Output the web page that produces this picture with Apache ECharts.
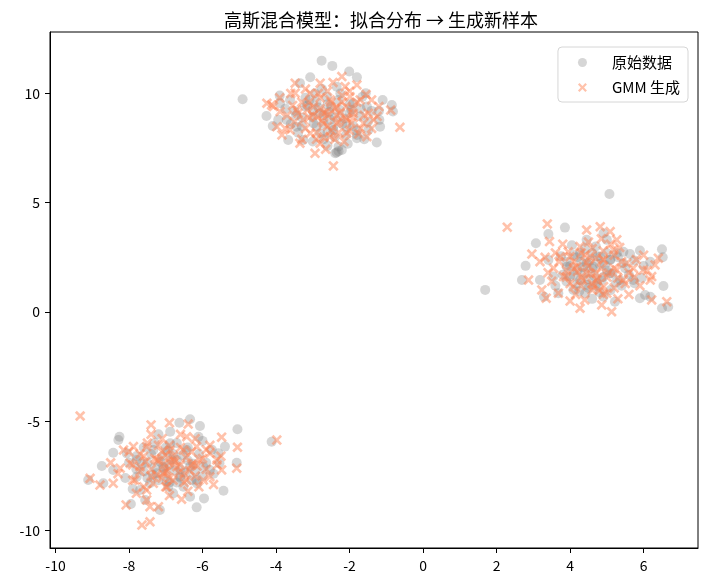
<!DOCTYPE html>
<html>
<head>
<meta charset="utf-8">
<title>GMM</title>
<script src="https://cdn.jsdelivr.net/npm/echarts@6/dist/echarts.min.js"></script>
<style>
  html, body { margin: 0; padding: 0; background: #fff; }
  #chart { width: 709px; height: 587px; }
</style>
</head>
<body>
<div id="chart"></div>
<script>
// 原始数据 (gray circles) per cluster
var origTop = [
  [-2.76, 11.5], [-2.47, 11.26], [-2.01, 11.0], [-1.8, 10.74], [-3.07, 10.74], [-4.91, 9.73],
  [-4.26, 8.97], [-4.09, 8.51], [-3.67, 7.87], [-1.26, 7.75], [-2.39, 7.26], [-2.21, 7.41],
  [-1.8, 7.95], [-1.49, 8.33], [-1.19, 8.79], [-1.1, 9.7], [-0.85, 9.47], [-0.82, 9.17],
  [-1.56, 10.01], [-3.35, 10.47], [-2.94, 10.01], [-2.62, 9.85], [-2.35, 10.31], [-3.89, 9.55],
  [-3.62, 9.7], [-3.21, 9.4], [-2.8, 9.09], [-1.9, 9.55], [-1.71, 8.94], [-2.08, 8.48],
  [-1.53, 9.4], [-3.94, 8.79], [-3.44, 8.48], [-3.26, 7.87], [-2.8, 8.18], [-2.3, 7.57],
  [-1.8, 8.1], [-3.09, 9.7], [-2.53, 8.79], [-2.26, 9.24], [-3.71, 8.79], [-1.17, 8.48],
  [-2.44, 8.33], [-2.98, 8.63], [-2.7, 9.0], [-2.4, 8.9], [-2.2, 8.6], [-3.0, 9.2],
  [-2.5, 9.4], [-2.0, 9.1], [-3.3, 8.9], [-2.6, 8.2], [-1.9, 8.5], [-2.9, 8.5],
  [-2.35, 7.3], [-2.3, 7.35], [-3.5, 9.2], [-3.2, 9.8], [-2.9, 9.6], [-2.6, 9.5],
  [-2.3, 9.7], [-2.0, 9.5], [-1.7, 9.3], [-1.5, 8.7], [-1.8, 8.3], [-2.1, 8.1],
  [-2.4, 8.0], [-2.7, 7.9], [-3.0, 7.8], [-3.4, 8.2], [-3.6, 8.6], [-3.3, 8.5],
  [-3.0, 8.9], [-2.7, 8.6], [-2.45, 8.45], [-2.15, 8.85], [-1.95, 9.25], [-2.55, 9.15],
  [-2.85, 9.35], [-3.15, 9.45], [-3.45, 9.0], [-2.25, 10.0], [-2.75, 10.2], [-1.65, 9.85],
  [-1.4, 9.2], [-3.75, 9.3], [-2.05, 7.7], [-2.6, 7.6], [-1.6, 7.9], [-3.9, 9.9],
  [-1.2, 9.2]
];
var origRight = [
  [5.07, 5.4], [1.69, 1.01], [3.86, 3.86], [3.41, 3.57], [3.07, 3.14], [2.79, 2.11],
  [2.69, 1.46], [3.18, 1.46], [3.29, 0.7], [3.68, 0.86], [4.41, 0.86], [5.22, 0.47],
  [5.9, 0.63], [6.04, 0.78], [6.5, 0.17], [6.67, 0.24], [6.54, 1.19], [6.5, 2.87],
  [6.52, 2.5], [6.18, 2.3], [5.9, 2.81], [5.63, 2.65], [4.91, 3.6], [4.45, 3.3],
  [4.09, 2.61], [3.91, 2.07], [4.27, 1.46], [4.73, 1.31], [5.09, 1.77], [5.45, 2.23],
  [5.72, 1.46], [5.27, 2.69], [4.82, 2.53], [4.45, 2.23], [3.55, 1.62], [4.91, 0.7],
  [5.36, 1.46], [4.0, 1.62], [4.63, 2.07], [5.09, 2.38], [6.18, 0.7], [4.27, 2.69],
  [4.09, 1.01], [3.41, 2.38], [5.75, 1.31], [4.6, 2.0], [4.4, 1.8], [4.8, 2.2],
  [4.3, 2.3], [5.0, 1.9], [4.5, 1.5], [4.7, 1.2], [4.2, 1.9], [5.1, 2.4],
  [3.9, 2.3], [4.6, 2.7], [4.9, 1.6], [3.8, 1.7], [4.0, 2.1], [4.2, 2.5],
  [4.4, 2.9], [4.7, 3.0], [5.0, 2.7], [5.3, 2.5], [5.5, 2.0], [5.6, 1.7],
  [5.4, 1.2], [5.1, 1.0], [4.8, 0.9], [4.5, 1.1], [4.2, 1.3], [3.9, 1.4],
  [4.1, 1.7], [4.35, 2.05], [4.55, 2.35], [4.75, 2.55], [4.95, 2.15], [5.15, 1.75],
  [5.25, 1.35], [4.85, 1.45], [4.65, 1.65], [4.45, 1.25], [4.25, 0.95], [3.75, 2.55],
  [5.75, 2.35], [5.95, 1.55], [4.05, 3.05], [5.45, 2.75], [4.6, 0.6], [3.6, 1.2],
  [5.0, 3.3], [6.0, 2.1]
];
var origBottom = [
  [-5.05, -5.37], [-4.12, -5.94], [-6.34, -4.91], [-6.63, -5.07], [-6.07, -5.22], [-6.11, -5.71],
  [-6.88, -5.48], [-8.26, -5.71], [-8.29, -5.86], [-8.43, -6.44], [-8.74, -7.05], [-9.11, -7.69],
  [-8.7, -7.84], [-7.95, -8.79], [-7.56, -8.6], [-7.16, -9.06], [-6.34, -8.45], [-6.16, -8.94],
  [-5.96, -8.53], [-5.43, -8.18], [-5.07, -6.9], [-5.39, -6.16], [-5.57, -6.47], [-5.54, -6.92],
  [-6.93, -8.0], [-7.7, -8.15], [-8.43, -7.23], [-7.79, -6.77], [-7.34, -6.32], [-6.88, -6.01],
  [-6.43, -6.32], [-5.98, -7.08], [-6.16, -7.69], [-6.61, -7.54], [-7.25, -7.38], [-7.79, -7.54],
  [-7.07, -7.08], [-6.7, -6.77], [-6.34, -7.08], [-7.43, -7.84], [-5.8, -7.23], [-8.06, -6.47],
  [-6.52, -8.0], [-6.97, -7.76], [-6.9, -7.0], [-7.1, -6.6], [-6.6, -7.2], [-7.3, -7.1],
  [-6.8, -6.5], [-7.0, -7.4], [-6.4, -6.8], [-7.5, -6.9], [-6.7, -7.8], [-6.2, -7.3],
  [-7.6, -7.3], [-7.8, -6.6], [-7.6, -6.2], [-7.3, -6.0], [-7.0, -6.2], [-6.7, -6.0],
  [-6.4, -6.2], [-6.1, -6.5], [-5.9, -6.9], [-6.0, -7.5], [-6.3, -7.7], [-6.6, -7.6],
  [-6.9, -7.8], [-7.2, -7.7], [-7.5, -7.6], [-7.8, -7.2], [-8.0, -6.9], [-7.4, -6.5],
  [-7.15, -6.85], [-6.85, -6.75], [-6.55, -6.55], [-6.25, -6.95], [-6.45, -7.35], [-6.75, -7.25],
  [-7.05, -7.15], [-7.35, -7.45], [-7.65, -6.95], [-6.95, -6.35], [-6.15, -7.85], [-5.7, -7.4],
  [-5.75, -6.3], [-8.1, -7.6], [-7.9, -8.1], [-6.8, -8.3], [-6.0, -5.9], [-7.2, -5.6]
];

// GMM 生成 (orange crosses)
var gmmTop = [
  [-0.63, 8.45], [-0.88, 9.24], [-2.44, 6.68], [-2.94, 7.26], [-3.35, 7.72], [-3.84, 8.1],
  [-4.12, 9.47], [-3.48, 10.47], [-2.21, 10.77], [-1.8, 10.39], [-2.8, 10.47], [-3.48, 10.01],
  [-4.25, 9.55], [-3.89, 9.17], [-3.98, 8.48], [-3.26, 8.79], [-2.98, 9.4], [-2.53, 9.7],
  [-2.26, 9.09], [-1.99, 9.85], [-1.71, 9.7], [-1.49, 9.09], [-1.62, 8.63], [-1.35, 8.79],
  [-2.08, 8.18], [-2.53, 8.02], [-2.8, 7.72], [-3.07, 8.18], [-2.35, 8.63], [-2.71, 8.63],
  [-3.62, 8.33], [-1.9, 9.09], [-2.62, 9.17], [-3.07, 10.01], [-2.35, 9.4], [-1.53, 8.02],
  [-2.12, 10.31], [-3.44, 9.24], [-2.89, 8.94], [-2.08, 8.79], [-4.07, 9.4], [-2.6, 9.0],
  [-2.3, 8.7], [-2.8, 9.3], [-2.1, 9.4], [-3.1, 8.9], [-2.5, 8.3], [-1.9, 8.9],
  [-3.3, 9.6], [-2.7, 8.0], [-2.2, 9.9], [-3.4, 9.1], [-3.1, 9.6], [-2.8, 9.8],
  [-2.5, 9.6], [-2.2, 9.6], [-1.9, 9.3], [-1.6, 9.0], [-1.7, 8.4], [-2.0, 8.3],
  [-2.3, 8.2], [-2.6, 8.5], [-2.9, 8.2], [-3.2, 8.4], [-3.5, 8.7], [-3.7, 9.0],
  [-3.0, 9.0], [-2.7, 9.1], [-2.4, 9.3], [-2.1, 8.9], [-1.8, 9.6], [-2.4, 7.9],
  [-2.9, 7.9], [-3.3, 7.9], [-1.4, 8.4], [-1.2, 9.4], [-3.9, 9.8], [-2.6, 10.1],
  [-2.0, 10.1], [-3.6, 10.0], [-1.55, 9.95], [-2.75, 8.75], [-2.35, 9.0], [-3.15, 9.25],
  [-1.95, 8.65], [-3.2, 10.2], [-2.45, 10.5], [-1.4, 9.7], [-3.75, 8.4], [-2.15, 7.8],
  [-2.65, 7.45], [-1.25, 8.95], [-3.55, 9.45], [-2.85, 10.0], [-1.75, 8.15]
];
var gmmRight = [
  [2.29, 3.88], [3.38, 4.03], [4.82, 3.9], [4.45, 3.75], [5.09, 3.68], [3.44, 3.22],
  [2.96, 2.65], [3.32, 2.5], [3.18, 2.3], [2.87, 1.46], [3.23, 1.01], [3.35, 0.63],
  [3.68, 0.86], [4.27, 0.17], [4.86, 0.32], [5.13, 0.01], [5.27, 3.3], [6.4, 2.46],
  [6.31, 2.15], [6.63, 0.47], [6.22, 0.55], [6.18, 1.46], [5.99, 1.92], [5.72, 2.0],
  [3.55, 2.0], [3.82, 1.62], [4.18, 2.07], [4.45, 1.77], [4.73, 1.46], [4.91, 1.16],
  [5.0, 0.86], [4.54, 2.53], [4.91, 2.38], [5.18, 2.84], [4.0, 2.53], [4.27, 2.99],
  [5.45, 1.46], [5.54, 2.23], [3.73, 2.53], [4.63, 1.16], [4.09, 1.16], [5.27, 1.92],
  [6.22, 1.62], [4.5, 2.1], [4.7, 1.8], [4.3, 1.6], [4.9, 2.4], [4.1, 2.0],
  [5.0, 1.6], [4.6, 1.3], [4.4, 2.6], [3.9, 1.9], [5.2, 2.0], [4.8, 1.0],
  [3.9, 1.6], [4.1, 2.3], [4.3, 2.7], [4.6, 2.9], [4.9, 2.8], [5.2, 2.6],
  [5.4, 2.3], [5.6, 1.8], [5.5, 1.3], [5.2, 1.1], [4.9, 0.8], [4.6, 1.0],
  [4.3, 1.2], [4.0, 1.3], [4.2, 1.85], [4.45, 2.25], [4.7, 2.45], [4.85, 2.0],
  [5.05, 1.8], [5.3, 1.55], [4.75, 1.55], [4.55, 1.75], [4.35, 1.45], [4.15, 0.8],
  [3.7, 2.3], [5.8, 2.4], [5.9, 1.2], [3.5, 1.4], [5.1, 3.1], [4.5, 3.2],
  [4.0, 0.5], [5.6, 0.8], [6.1, 1.9], [3.6, 2.7], [3.4, 1.8], [5.35, 2.95],
  [5.75, 1.6], [4.4, 0.55], [5.3, 0.6], [3.8, 3.1], [6.0, 2.6], [4.85, 3.35],
  [3.95, 2.75]
];
var gmmBottom = [
  [-9.33, -4.76], [-3.98, -5.86], [-7.4, -5.17], [-6.9, -5.07], [-6.39, -5.13], [-5.48, -5.73],
  [-5.05, -6.19], [-5.07, -7.15], [-5.48, -7.23], [-9.06, -7.61], [-8.79, -7.92], [-8.43, -7.84],
  [-8.08, -8.83], [-7.43, -8.91], [-7.2, -8.91], [-7.65, -9.75], [-7.43, -9.6], [-6.57, -8.57],
  [-8.15, -6.32], [-7.88, -6.16], [-7.52, -6.16], [-7.84, -7.69], [-7.52, -8.15], [-5.98, -7.69],
  [-6.07, -6.77], [-5.8, -6.47], [-6.43, -5.71], [-6.88, -6.32], [-7.25, -6.77], [-6.7, -7.08],
  [-7.07, -7.38], [-7.34, -7.84], [-6.43, -7.69], [-6.25, -6.92], [-7.7, -7.08], [-7.97, -6.92],
  [-6.52, -6.32], [-6.16, -6.16], [-5.61, -6.77], [-6.97, -8.0], [-7.52, -8.6], [-5.8, -7.54],
  [-6.79, -6.77], [-8.24, -7.15], [-6.9, -6.9], [-7.2, -6.8], [-6.6, -7.0], [-7.0, -7.3],
  [-6.8, -6.6], [-7.4, -7.2], [-6.5, -7.4], [-7.1, -6.4], [-6.3, -7.0], [-7.6, -6.6],
  [-6.9, -7.6], [-7.7, -6.5], [-7.5, -6.0], [-7.2, -6.1], [-6.9, -6.1], [-6.6, -6.2],
  [-6.3, -6.4], [-6.0, -6.7], [-5.9, -7.2], [-6.2, -7.5], [-6.5, -7.8], [-6.8, -7.7],
  [-7.1, -7.6], [-7.4, -7.5], [-7.7, -7.3], [-7.9, -7.0], [-7.3, -6.7], [-7.05, -6.95],
  [-6.75, -6.85], [-6.45, -6.65], [-6.15, -7.05], [-6.35, -7.25], [-6.65, -7.35], [-6.95, -7.25],
  [-7.25, -7.45], [-7.55, -6.85], [-7.0, -6.55], [-6.1, -8.0], [-5.6, -7.0], [-5.8, -6.1],
  [-8.3, -7.4], [-7.8, -8.3], [-6.9, -8.4], [-6.2, -5.8], [-7.4, -5.6], [-7.0, -8.0],
  [-8.0, -6.4], [-7.9, -7.7], [-5.9, -6.3], [-6.6, -5.6], [-7.1, -5.8], [-5.5, -6.6],
  [-7.6, -8.0], [-6.4, -8.2], [-8.5, -6.9], [-5.7, -7.9]
];

var xTicks = [-10, -8, -6, -4, -2, 0, 2, 4, 6];
var yTicks = [-10, -5, 0, 5, 10];
var seriesNames = ['原始数据', 'GMM 生成'];

var font = '"Noto Sans CJK SC", "DejaVu Sans", sans-serif';
var crossPath = 'path://M1.8,0L5,3.2L8.2,0L10,1.8L6.8,5L10,8.2L8.2,10L5,6.8L1.8,10L0,8.2L3.2,5L0,1.8Z';

var chart = echarts.init(document.getElementById('chart'));

var axisCommon = {
    type: 'value',
    axisLine: { show: true, onZero: false, lineStyle: { color: '#000', width: 1 } },
    axisTick: { show: true, inside: false, length: 5, lineStyle: { color: '#000' } },
    axisLabel: { color: '#000', fontSize: 14, fontFamily: font },
    splitLine: { show: false }
};

chart.setOption({
    animation: false,
    backgroundColor: '#fff',
    title: {
        text: '高斯混合模型：拟合分布 → 生成新样本',
        left: 376,
        top: 5,
        textAlign: 'center',
        textStyle: { fontSize: 18, fontWeight: 'normal', color: '#000', fontFamily: font, lineHeight: 20 }
    },
    grid: {
        left: 50, right: 11, top: 32, bottom: 39,
        show: true, borderColor: '#000', borderWidth: 1, backgroundColor: 'transparent'
    },
    legend: {
        orient: 'vertical',
        right: 21,
        top: 47,
        itemWidth: 9,
        itemHeight: 9,
        itemGap: 10,
        padding: [8, 8, 7, 20],
        backgroundColor: 'rgba(255,255,255,0.8)',
        borderColor: '#d6d6d6',
        borderWidth: 1,
        borderRadius: 4,
        textStyle: { fontSize: 15, color: '#000', fontFamily: font, padding: [0, 0, 0, 20] },
        data: seriesNames
    },
    xAxis: Object.assign({}, axisCommon, {
        min: -10.15, max: 7.48,
        axisTick: Object.assign({}, axisCommon.axisTick, { customValues: xTicks }),
        axisLabel: Object.assign({}, axisCommon.axisLabel, { customValues: xTicks, margin: 11 })
    }),
    yAxis: Object.assign({}, axisCommon, {
        min: -10.8, max: 12.81,
        axisTick: Object.assign({}, axisCommon.axisTick, { customValues: yTicks }),
        axisLabel: Object.assign({}, axisCommon.axisLabel, { customValues: yTicks, margin: 10 })
    }),
    series: [
        {
            name: seriesNames[0],
            type: 'scatter',
            symbol: 'circle',
            symbolSize: 10,
            itemStyle: { color: 'rgba(128,128,128,0.4)' },
            data: origTop.concat(origRight, origBottom)
        },
        {
            name: seriesNames[1],
            type: 'scatter',
            symbol: crossPath,
            symbolSize: 10.5,
            itemStyle: { color: 'rgba(255,127,80,0.6)' },
            data: gmmTop.concat(gmmRight, gmmBottom)
        }
    ]
});

window.addEventListener('resize', function () {
    chart.resize();
});
</script>
</body>
</html>
